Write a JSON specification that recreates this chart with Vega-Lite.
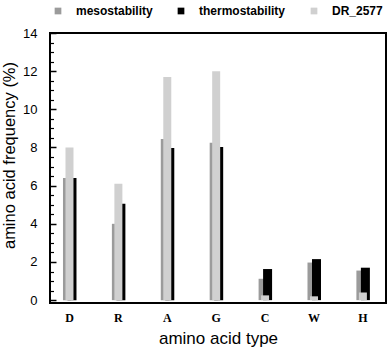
{
  "$schema": "https://vega.github.io/schema/vega-lite/v6.json",
  "width": 336,
  "height": 270,
  "autosize": {"type": "none"},
  "padding": {"left": 50, "top": 33, "right": 6, "bottom": 51},
  "config": {
    "view": {"stroke": "black", "strokeWidth": 2},
    "font": "Liberation Sans",
    "axis": {"grid": false, "domain": false, "tickColor": "black", "labelColor": "black", "titleColor": "black"}
  },
  "data": {
    "values": [
      {"aa": "D", "series": "mesostability", "freq": 6.4},
      {"aa": "D", "series": "thermostability", "freq": 6.4},
      {"aa": "D", "series": "DR_2577", "freq": 8.0},
      {"aa": "R", "series": "mesostability", "freq": 4.0},
      {"aa": "R", "series": "thermostability", "freq": 5.05},
      {"aa": "R", "series": "DR_2577", "freq": 6.1},
      {"aa": "A", "series": "mesostability", "freq": 8.45},
      {"aa": "A", "series": "thermostability", "freq": 7.97},
      {"aa": "A", "series": "DR_2577", "freq": 11.7},
      {"aa": "G", "series": "mesostability", "freq": 8.25},
      {"aa": "G", "series": "thermostability", "freq": 8.03},
      {"aa": "G", "series": "DR_2577", "freq": 12.0},
      {"aa": "C", "series": "mesostability", "freq": 1.12},
      {"aa": "C", "series": "thermostability", "freq": 1.63},
      {"aa": "C", "series": "DR_2577", "freq": 0.25},
      {"aa": "W", "series": "mesostability", "freq": 1.97},
      {"aa": "W", "series": "thermostability", "freq": 2.15},
      {"aa": "W", "series": "DR_2577", "freq": 0.2},
      {"aa": "H", "series": "mesostability", "freq": 1.55},
      {"aa": "H", "series": "thermostability", "freq": 1.7},
      {"aa": "H", "series": "DR_2577", "freq": 0.4}
    ]
  },
  "encoding": {
    "x": {
      "field": "aa",
      "type": "nominal",
      "sort": ["D", "R", "A", "G", "C", "W", "H"],
      "scale": {"paddingInner": 0.5, "paddingOuter": 0.1855, "align": 0.4},
      "axis": {
        "title": "amino acid type",
        "titleFont": "Liberation Sans",
        "titleFontSize": 17,
        "titleFontWeight": "normal",
        "titlePadding": 7,
        "labelFont": "Liberation Serif",
        "labelFontWeight": "bold",
        "labelFontSize": 12,
        "labelAngle": 0,
        "labelPadding": 9,
        "ticks": false
      }
    },
    "color": {
      "field": "series",
      "type": "nominal",
      "scale": {"domain": ["mesostability", "thermostability", "DR_2577"], "range": ["#9b9b9b", "#000000", "#d0d0d0"]},
      "legend": {
        "title": null,
        "orient": "none",
        "direction": "horizontal",
        "legendX": 2,
        "legendY": -28,
        "padding": 0,
        "symbolType": "square",
        "symbolSize": 45,
        "symbolStrokeWidth": 0,
        "labelFont": "Liberation Sans",
        "labelFontWeight": "bold",
        "labelFontSize": 12,
        "labelOffset": 12,
        "labelLimit": 300,
        "columnPadding": 22
      }
    }
  },
  "layer": [
    {
      "transform": [{"filter": "datum.series === 'mesostability'"}],
      "mark": {"type": "bar", "width": 8, "xOffset": -2.5},
      "encoding": {
        "y": {
          "field": "freq",
          "type": "quantitative",
          "scale": {"domain": [-0.15, 14], "nice": false, "zero": false},
          "axis": {
            "orient": "left",
            "values": [0, 2, 4, 6, 8, 10, 12, 14],
            "tickSize": -6,
            "tickWidth": 1.5,
            "labelPadding": 19,
            "labelFontSize": 13,
            "labelFont": "Liberation Sans",
            "title": "amino acid frequency (%)",
            "titleFont": "Liberation Sans",
            "titleFontSize": 16.5,
            "titleFontWeight": "normal",
            "titlePadding": 5,
            "titleY": 122
          }
        },
        "y2": {"datum": 0}
      }
    },
    {
      "transform": [{"filter": "datum.series === 'thermostability'"}],
      "mark": {"type": "bar", "width": 9, "xOffset": 2.5},
      "encoding": {
        "y": {
          "field": "freq",
          "type": "quantitative",
          "axis": {
            "orient": "left",
            "values": [0.5, 1, 1.5, 2.5, 3, 3.5, 4.5, 5, 5.5, 6.5, 7, 7.5, 8.5, 9, 9.5, 10.5, 11, 11.5, 12.5, 13, 13.5],
            "tickSize": -3.5,
            "tickWidth": 1.2,
            "labels": false,
            "title": null
          }
        },
        "y2": {"datum": 0}
      }
    },
    {
      "transform": [{"filter": "datum.series === 'DR_2577'"}],
      "mark": {"type": "bar", "width": 8, "xOffset": 0},
      "encoding": {
        "y": {"field": "freq", "type": "quantitative", "axis": null},
        "y2": {"datum": 0}
      }
    }
  ],
  "resolve": {"axis": {"y": "independent"}}
}
